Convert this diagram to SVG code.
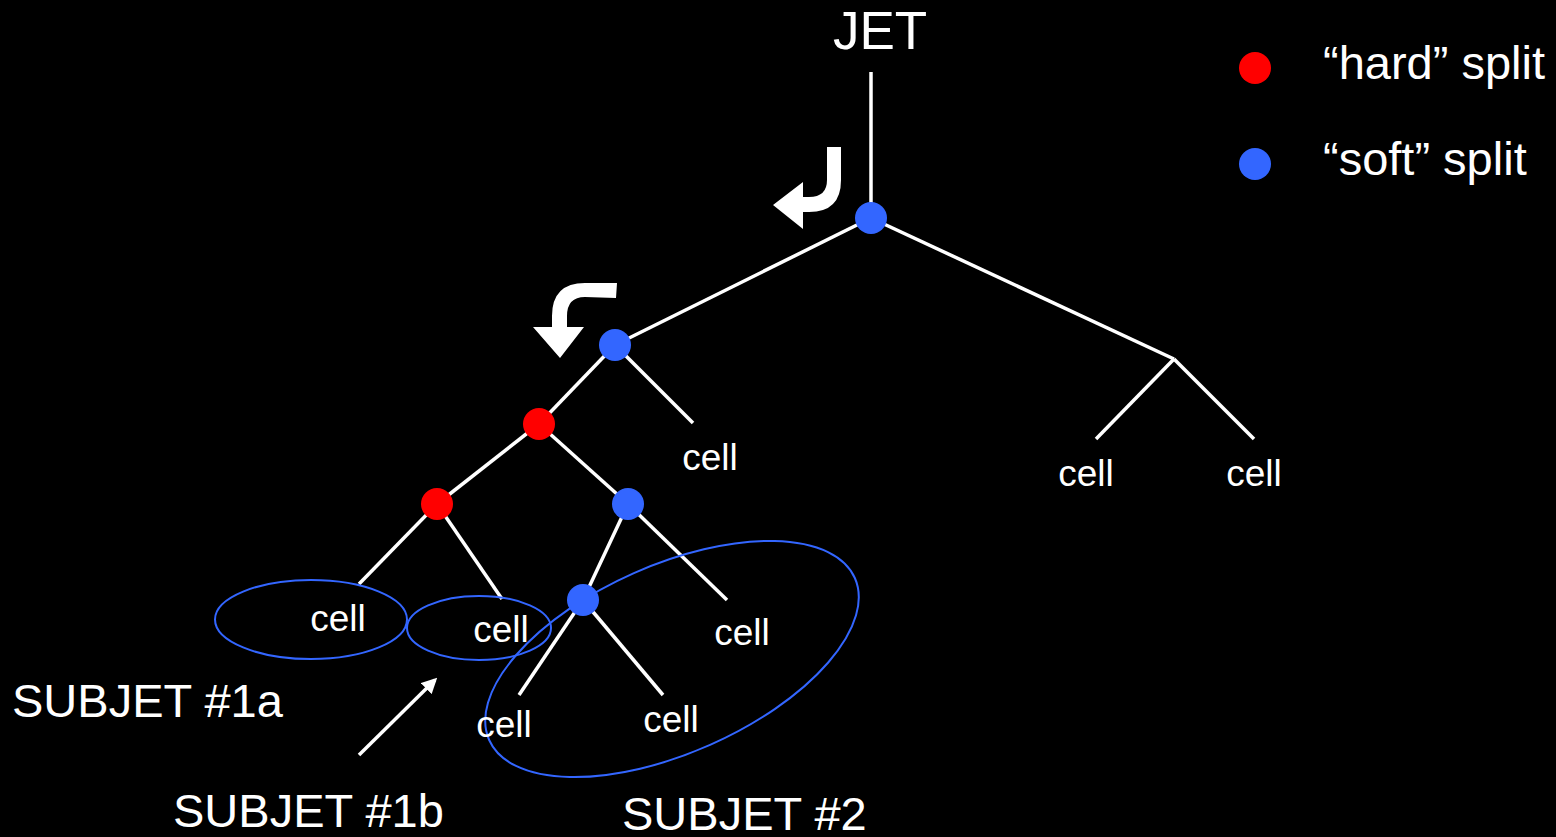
<svg xmlns="http://www.w3.org/2000/svg" width="1556" height="837" viewBox="0 0 1556 837">
<style>
.bg{fill:#000}
.edge{stroke:#fff;stroke-width:3.5;fill:none;stroke-linecap:butt}
.soft{fill:#3366ff}
.hard{fill:#ff0000}
.ell{fill:none;stroke:#3366ff;stroke-width:2}
text{font-family:"Liberation Sans",Arial,sans-serif;fill:#fff}
.cell{font-size:37px;text-anchor:middle}
.big{font-size:47px}
.blk{fill:#fff}
</style>
<defs>
<marker id="ah" viewBox="0 0 10 10" refX="8" refY="5" markerWidth="4.4" markerHeight="4.4" orient="auto" markerUnits="strokeWidth">
<path d="M0 0 L10 5 L0 10 Z" fill="#fff"/>
</marker>
</defs>
<rect class="bg" x="0" y="0" width="1556" height="837"/>
<g id="connectors">
<line class="edge" x1="871" y1="72" x2="871" y2="218"/>
<line class="edge" x1="871" y1="218" x2="615" y2="345"/>
<line class="edge" x1="871" y1="218" x2="1174" y2="359"/>
<line class="edge" x1="1174" y1="359" x2="1096" y2="439"/>
<line class="edge" x1="1174" y1="359" x2="1254" y2="439"/>
<line class="edge" x1="615" y1="345" x2="539" y2="424"/>
<line class="edge" x1="615" y1="345" x2="693" y2="423"/>
<line class="edge" x1="539" y1="424" x2="437" y2="504"/>
<line class="edge" x1="539" y1="424" x2="628" y2="504"/>
<line class="edge" x1="437" y1="504" x2="359" y2="584"/>
<line class="edge" x1="437" y1="504" x2="502" y2="599"/>
<line class="edge" x1="628" y1="504" x2="583" y2="600"/>
<line class="edge" x1="628" y1="504" x2="727" y2="600"/>
<line class="edge" x1="583" y1="600" x2="519" y2="695"/>
<line class="edge" x1="583" y1="600" x2="663" y2="695"/>
<line class="edge" x1="359" y1="755" x2="435" y2="680" stroke-width="5" marker-end="url(#ah)"/>
</g>
<g id="subjet-ellipses">
<ellipse id="ell-1a" class="ell" cx="311" cy="619.5" rx="96" ry="39.5"/>
<ellipse id="ell-1b" class="ell" cx="479" cy="628" rx="72" ry="32"/>
<ellipse id="ell-2" class="ell" cx="672" cy="659" rx="200" ry="94" transform="rotate(-23.9 672 659)"/>
</g>
<g id="turn-arrows">
<path class="blk" d="M827 147 L841 147 L841 180 Q841 212 809 212 L803 212 L803 229 L773 205 L803 182 L803 197 L809 197 Q827 197 827 180 Z"/>
<path class="blk" d="M617 283 L585 283 Q552 283 552 316 L552 327 L533 327 L560 358 L584 327 L567 327 L567 316 Q567 297 585 297 L616 298 Z"/>
</g>
<g id="n-root"><circle class="soft" cx="871" cy="218" r="16"/></g>
<g id="n-a"><circle class="soft" cx="615" cy="345" r="16"/></g>
<g id="n-b"><circle class="hard" cx="539" cy="424" r="16"/></g>
<g id="n-c"><circle class="hard" cx="437" cy="504" r="16"/></g>
<g id="n-d"><circle class="soft" cx="628" cy="504" r="16"/></g>
<g id="n-e"><circle class="soft" cx="583" cy="600" r="16"/></g>
<g id="cells">
<text class="cell" x="710" y="470">cell</text>
<text class="cell" x="1086" y="486">cell</text>
<text class="cell" x="1254" y="486">cell</text>
<text class="cell" x="338" y="631">cell</text>
<text class="cell" x="501" y="642">cell</text>
<text class="cell" x="742" y="645">cell</text>
<text class="cell" x="504" y="737">cell</text>
<text class="cell" x="671" y="732">cell</text>
</g>
<g id="labels">
<text x="880" y="49" font-size="53" text-anchor="middle">JET</text>
<text class="big" x="12" y="717">SUBJET #1a</text>
<text class="big" x="173" y="827">SUBJET #1b</text>
<text class="big" x="622" y="830">SUBJET #2</text>
</g>
<g id="legend">
<circle class="hard" cx="1255" cy="68" r="16"/>
<text class="big" x="1323" y="79" font-size="46">“hard” split</text>
<circle class="soft" cx="1255" cy="164" r="16"/>
<text class="big" x="1323" y="175" font-size="46">“soft” split</text>
</g>
</svg>
